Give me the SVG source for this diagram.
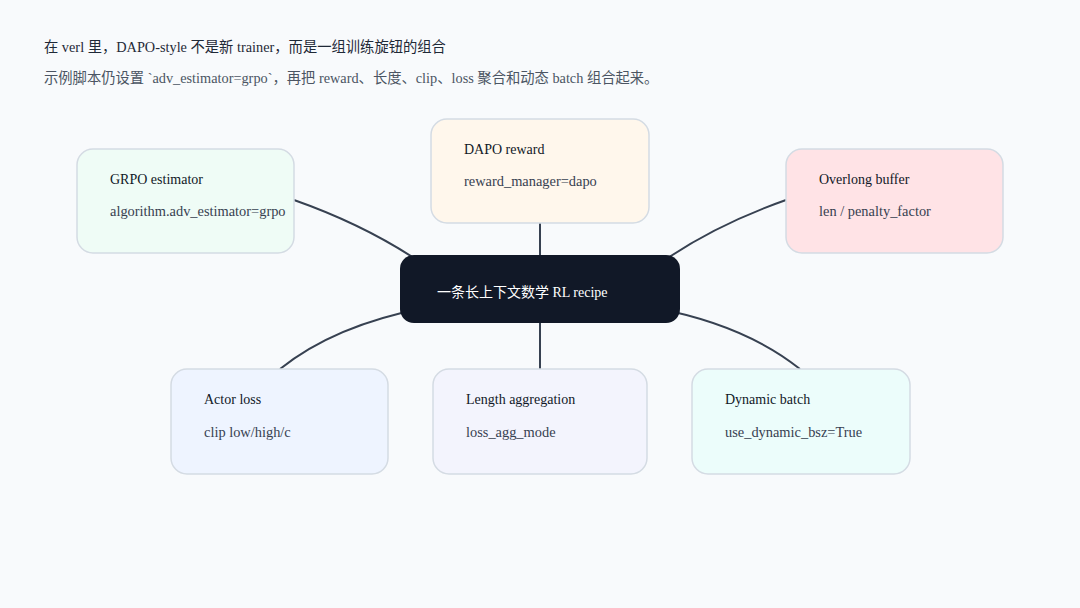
<svg xmlns="http://www.w3.org/2000/svg" width="1080" height="608" viewBox="0 0 1080 608">
<style>
.t{font-family:"Liberation Serif","Noto Sans CJK SC",serif;fill:#1f2937}
.h{font-size:14px;fill:#111827}
.s{font-size:14.4px;fill:#374151}
.n{stroke:#d4dbe3;stroke-width:1.5}
.c{fill:none;stroke:#374151;stroke-width:2}
</style>
<rect width="1080" height="608" fill="#f8fafc"/>
<text class="t" x="44" y="52" font-size="14.3" fill="#111827">在 verl 里，DAPO-style 不是新 trainer，而是一组训练旋钮的组合</text>
<text class="t" x="44" y="83" font-size="14.3" style="fill:#4b5563">示例脚本仍设置 `adv_estimator=grpo`，再把 reward、长度、clip、loss 聚合和动态 batch 组合起来。</text>
<g id="connectors">
<path class="c" d="M294,200 Q365,225 420,262"/>
<path class="c" d="M540,223 L540,256"/>
<path class="c" d="M786,200 Q715,225 662,262"/>
<path class="c" d="M280,369 Q335,325 425,308"/>
<path class="c" d="M540,322 L540,369"/>
<path class="c" d="M800,369 Q745,325 655,308"/>
</g>
<g id="grpo"><rect class="n" x="77" y="149" width="217" height="104" rx="16" fill="#effcf6"/>
<text class="t h" x="110" y="184">GRPO estimator</text><text class="t s" x="110" y="216">algorithm.adv_estimator=grpo</text></g>
<g id="dapo"><rect class="n" x="431" y="119" width="218" height="104" rx="16" fill="#fff7ec"/>
<text class="t h" x="464" y="154">DAPO reward</text><text class="t s" x="464" y="186">reward_manager=dapo</text></g>
<g id="overlong"><rect class="n" x="786" y="149" width="217" height="104" rx="16" fill="#ffe3e6"/>
<text class="t h" x="819" y="184">Overlong buffer</text><text class="t s" x="819" y="216">len / penalty_factor</text></g>
<g id="center"><rect x="400" y="255" width="280" height="68" rx="14" fill="#111827"/>
<text class="t" x="437" y="297" font-size="14" style="fill:#ffffff">一条长上下文数学 RL recipe</text></g>
<g id="actor"><rect class="n" x="171" y="369" width="217" height="105" rx="16" fill="#eef4ff"/>
<text class="t h" x="204" y="404">Actor loss</text><text class="t s" x="204" y="437">clip low/high/c</text></g>
<g id="length"><rect class="n" x="433" y="369" width="214" height="105" rx="16" fill="#f3f4fd"/>
<text class="t h" x="466" y="404">Length aggregation</text><text class="t s" x="466" y="437">loss_agg_mode</text></g>
<g id="dynamic"><rect class="n" x="692" y="369" width="218" height="105" rx="16" fill="#ecfdfb"/>
<text class="t h" x="725" y="404">Dynamic batch</text><text class="t s" x="725" y="437">use_dynamic_bsz=True</text></g>
</svg>
